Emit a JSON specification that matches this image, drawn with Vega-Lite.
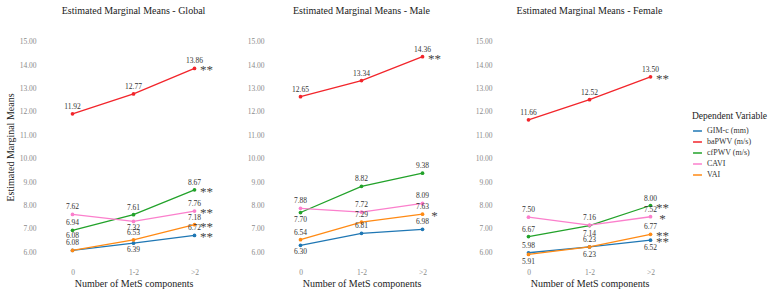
{
  "$schema": "https://vega.github.io/schema/vega-lite/v6.json",
  "padding": {"left": 5, "top": 6, "right": 5, "bottom": 5},
  "config": {
    "font": "Liberation Serif, serif",
    "view": {"stroke": null},
    "axis": {"grid": false, "domain": false, "ticks": false, "labelColor": "#8a8a8a", "labelFont": "Liberation Serif, serif", "labelFontSize": 7.5, "titleFont": "Liberation Serif, serif", "titleFontWeight": "normal", "titleColor": "#222222", "titleFontSize": 10},
    "title": {"font": "Liberation Serif, serif", "fontSize": 10, "fontWeight": "normal", "color": "#222222", "offset": 14},
    "text": {"font": "Liberation Serif, serif"},
    "concat": {"spacing": 22},
    "legend": {"titleFont": "Liberation Serif, serif", "labelFont": "Liberation Serif, serif", "titleFontWeight": "normal", "titleFontSize": 9.5, "labelFontSize": 8, "titleColor": "#222222", "labelColor": "#333333"}
  },
  "data": {"values": [
    {"panel": "Global", "variable": "GIM-c (mm)", "mets": "0", "value": 6.08, "pos": "high", "sig": ""},
    {"panel": "Global", "variable": "GIM-c (mm)", "mets": "1-2", "value": 6.39, "pos": "below", "sig": ""},
    {"panel": "Global", "variable": "GIM-c (mm)", "mets": ">2", "value": 6.72, "pos": "above", "sig": "**"},
    {"panel": "Global", "variable": "baPWV (m/s)", "mets": "0", "value": 11.92, "pos": "above", "sig": ""},
    {"panel": "Global", "variable": "baPWV (m/s)", "mets": "1-2", "value": 12.77, "pos": "above", "sig": ""},
    {"panel": "Global", "variable": "baPWV (m/s)", "mets": ">2", "value": 13.86, "pos": "above", "sig": "**"},
    {"panel": "Global", "variable": "cfPWV (m/s)", "mets": "0", "value": 6.94, "pos": "above", "sig": ""},
    {"panel": "Global", "variable": "cfPWV (m/s)", "mets": "1-2", "value": 7.61, "pos": "above", "sig": ""},
    {"panel": "Global", "variable": "cfPWV (m/s)", "mets": ">2", "value": 8.67, "pos": "above", "sig": "**"},
    {"panel": "Global", "variable": "CAVI", "mets": "0", "value": 7.62, "pos": "above", "sig": ""},
    {"panel": "Global", "variable": "CAVI", "mets": "1-2", "value": 7.32, "pos": "below", "sig": ""},
    {"panel": "Global", "variable": "CAVI", "mets": ">2", "value": 7.76, "pos": "above", "sig": "**"},
    {"panel": "Global", "variable": "VAI", "mets": "0", "value": 6.08, "pos": "above", "sig": ""},
    {"panel": "Global", "variable": "VAI", "mets": "1-2", "value": 6.53, "pos": "above", "sig": ""},
    {"panel": "Global", "variable": "VAI", "mets": ">2", "value": 7.18, "pos": "above", "sig": "**"},

    {"panel": "Male", "variable": "GIM-c (mm)", "mets": "0", "value": 6.30, "pos": "below", "sig": ""},
    {"panel": "Male", "variable": "GIM-c (mm)", "mets": "1-2", "value": 6.81, "pos": "above", "sig": ""},
    {"panel": "Male", "variable": "GIM-c (mm)", "mets": ">2", "value": 6.98, "pos": "above", "sig": ""},
    {"panel": "Male", "variable": "baPWV (m/s)", "mets": "0", "value": 12.65, "pos": "above", "sig": ""},
    {"panel": "Male", "variable": "baPWV (m/s)", "mets": "1-2", "value": 13.34, "pos": "above", "sig": ""},
    {"panel": "Male", "variable": "baPWV (m/s)", "mets": ">2", "value": 14.36, "pos": "above", "sig": "**"},
    {"panel": "Male", "variable": "cfPWV (m/s)", "mets": "0", "value": 7.70, "pos": "below", "sig": ""},
    {"panel": "Male", "variable": "cfPWV (m/s)", "mets": "1-2", "value": 8.82, "pos": "above", "sig": ""},
    {"panel": "Male", "variable": "cfPWV (m/s)", "mets": ">2", "value": 9.38, "pos": "above", "sig": ""},
    {"panel": "Male", "variable": "CAVI", "mets": "0", "value": 7.88, "pos": "above", "sig": ""},
    {"panel": "Male", "variable": "CAVI", "mets": "1-2", "value": 7.72, "pos": "above", "sig": ""},
    {"panel": "Male", "variable": "CAVI", "mets": ">2", "value": 8.09, "pos": "above", "sig": ""},
    {"panel": "Male", "variable": "VAI", "mets": "0", "value": 6.54, "pos": "above", "sig": ""},
    {"panel": "Male", "variable": "VAI", "mets": "1-2", "value": 7.29, "pos": "above", "sig": ""},
    {"panel": "Male", "variable": "VAI", "mets": ">2", "value": 7.63, "pos": "above", "sig": "*"},

    {"panel": "Female", "variable": "GIM-c (mm)", "mets": "0", "value": 5.98, "pos": "above", "sig": ""},
    {"panel": "Female", "variable": "GIM-c (mm)", "mets": "1-2", "value": 6.23, "pos": "below", "sig": ""},
    {"panel": "Female", "variable": "GIM-c (mm)", "mets": ">2", "value": 6.52, "pos": "below", "sig": "**"},
    {"panel": "Female", "variable": "baPWV (m/s)", "mets": "0", "value": 11.66, "pos": "above", "sig": ""},
    {"panel": "Female", "variable": "baPWV (m/s)", "mets": "1-2", "value": 12.52, "pos": "above", "sig": ""},
    {"panel": "Female", "variable": "baPWV (m/s)", "mets": ">2", "value": 13.50, "pos": "above", "sig": "**"},
    {"panel": "Female", "variable": "cfPWV (m/s)", "mets": "0", "value": 6.67, "pos": "above", "sig": ""},
    {"panel": "Female", "variable": "cfPWV (m/s)", "mets": "1-2", "value": 7.14, "pos": "below", "sig": ""},
    {"panel": "Female", "variable": "cfPWV (m/s)", "mets": ">2", "value": 8.00, "pos": "above", "sig": "**"},
    {"panel": "Female", "variable": "CAVI", "mets": "0", "value": 7.50, "pos": "above", "sig": ""},
    {"panel": "Female", "variable": "CAVI", "mets": "1-2", "value": 7.16, "pos": "above", "sig": ""},
    {"panel": "Female", "variable": "CAVI", "mets": ">2", "value": 7.52, "pos": "above", "sig": "*"},
    {"panel": "Female", "variable": "VAI", "mets": "0", "value": 5.91, "pos": "below", "sig": ""},
    {"panel": "Female", "variable": "VAI", "mets": "1-2", "value": 6.23, "pos": "above", "sig": ""},
    {"panel": "Female", "variable": "VAI", "mets": ">2", "value": 6.77, "pos": "above", "sig": "**"}
  ]},
  "hconcat": [
    {
      "title": "Estimated Marginal Means - Global",
      "width": 183, "height": 234,
      "transform": [{"filter": "datum.panel === 'Global'"}],
      "encoding": {
        "x": {"field": "mets", "type": "ordinal", "sort": ["0", "1-2", ">2"], "scale": {"type": "point", "padding": 0.5}, "axis": {"title": "Number of MetS components", "labelAngle": 0, "labelPadding": 4, "titlePadding": 3}},
        "y": {"field": "value", "type": "quantitative", "scale": {"domain": [5.5, 15.5], "nice": false, "zero": false}, "axis": {"values": [6, 7, 8, 9, 10, 11, 12, 13, 14, 15], "format": ".2f", "title": "Estimated Marginal Means", "labelPadding": 6, "titlePadding": 4}},
        "color": {"field": "variable", "type": "nominal", "scale": {"domain": ["GIM-c (mm)", "baPWV (m/s)", "cfPWV (m/s)", "CAVI", "VAI"], "range": ["#1f77b4", "#f2252b", "#22a22a", "#fb7fcc", "#ff8a14"]}, "legend": {"title": "Dependent Variable", "orient": "none", "legendX": 650, "legendY": 81, "symbolType": "stroke", "symbolSize": 80, "symbolStrokeWidth": 1.5, "rowPadding": 1}}
      },
      "layer": [
        {"mark": {"type": "line", "strokeWidth": 1.3, "point": {"filled": true, "size": 14}}},
        {"transform": [{"filter": "datum.pos === 'above'"}], "mark": {"type": "text", "dy": -7, "fontSize": 7.5}, "encoding": {"text": {"field": "value", "format": ".2f"}, "color": {"value": "#333333"}}},
        {"transform": [{"filter": "datum.pos === 'high'"}], "mark": {"type": "text", "dy": -14, "fontSize": 7.5}, "encoding": {"text": {"field": "value", "format": ".2f"}, "color": {"value": "#333333"}}},
        {"transform": [{"filter": "datum.pos === 'below'"}], "mark": {"type": "text", "dy": 7, "fontSize": 7.5}, "encoding": {"text": {"field": "value", "format": ".2f"}, "color": {"value": "#333333"}}},
        {"transform": [{"filter": "datum.sig !== ''"}], "mark": {"type": "text", "dx": 12, "dy": 2, "fontSize": 13}, "encoding": {"text": {"field": "sig"}, "color": {"value": "#444444"}}}
      ]
    },
    {
      "title": "Estimated Marginal Means - Male",
      "width": 183, "height": 234,
      "transform": [{"filter": "datum.panel === 'Male'"}],
      "encoding": {
        "x": {"field": "mets", "type": "ordinal", "sort": ["0", "1-2", ">2"], "scale": {"type": "point", "padding": 0.5}, "axis": {"title": "Number of MetS components", "labelAngle": 0, "labelPadding": 4, "titlePadding": 3}},
        "y": {"field": "value", "type": "quantitative", "scale": {"domain": [5.5, 15.5], "nice": false, "zero": false}, "axis": {"values": [6, 7, 8, 9, 10, 11, 12, 13, 14, 15], "format": ".2f", "title": null, "labelPadding": 6}},
        "color": {"field": "variable", "type": "nominal"}
      },
      "layer": [
        {"mark": {"type": "line", "strokeWidth": 1.3, "point": {"filled": true, "size": 14}}},
        {"transform": [{"filter": "datum.pos === 'above'"}], "mark": {"type": "text", "dy": -7, "fontSize": 7.5}, "encoding": {"text": {"field": "value", "format": ".2f"}, "color": {"value": "#333333"}}},
        {"transform": [{"filter": "datum.pos === 'below'"}], "mark": {"type": "text", "dy": 7, "fontSize": 7.5}, "encoding": {"text": {"field": "value", "format": ".2f"}, "color": {"value": "#333333"}}},
        {"transform": [{"filter": "datum.sig !== ''"}], "mark": {"type": "text", "dx": 12, "dy": 2, "fontSize": 13}, "encoding": {"text": {"field": "sig"}, "color": {"value": "#444444"}}}
      ]
    },
    {
      "title": "Estimated Marginal Means - Female",
      "width": 183, "height": 234,
      "transform": [{"filter": "datum.panel === 'Female'"}],
      "encoding": {
        "x": {"field": "mets", "type": "ordinal", "sort": ["0", "1-2", ">2"], "scale": {"type": "point", "padding": 0.5}, "axis": {"title": "Number of MetS components", "labelAngle": 0, "labelPadding": 4, "titlePadding": 3}},
        "y": {"field": "value", "type": "quantitative", "scale": {"domain": [5.5, 15.5], "nice": false, "zero": false}, "axis": {"values": [6, 7, 8, 9, 10, 11, 12, 13, 14, 15], "format": ".2f", "title": null, "labelPadding": 6}},
        "color": {"field": "variable", "type": "nominal"}
      },
      "layer": [
        {"mark": {"type": "line", "strokeWidth": 1.3, "point": {"filled": true, "size": 14}}},
        {"transform": [{"filter": "datum.pos === 'above'"}], "mark": {"type": "text", "dy": -7, "fontSize": 7.5}, "encoding": {"text": {"field": "value", "format": ".2f"}, "color": {"value": "#333333"}}},
        {"transform": [{"filter": "datum.pos === 'below'"}], "mark": {"type": "text", "dy": 8, "fontSize": 7.5}, "encoding": {"text": {"field": "value", "format": ".2f"}, "color": {"value": "#333333"}}},
        {"transform": [{"filter": "datum.sig !== ''"}], "mark": {"type": "text", "dx": 12, "dy": 2, "fontSize": 13}, "encoding": {"text": {"field": "sig"}, "color": {"value": "#444444"}}}
      ]
    }
  ]
}
